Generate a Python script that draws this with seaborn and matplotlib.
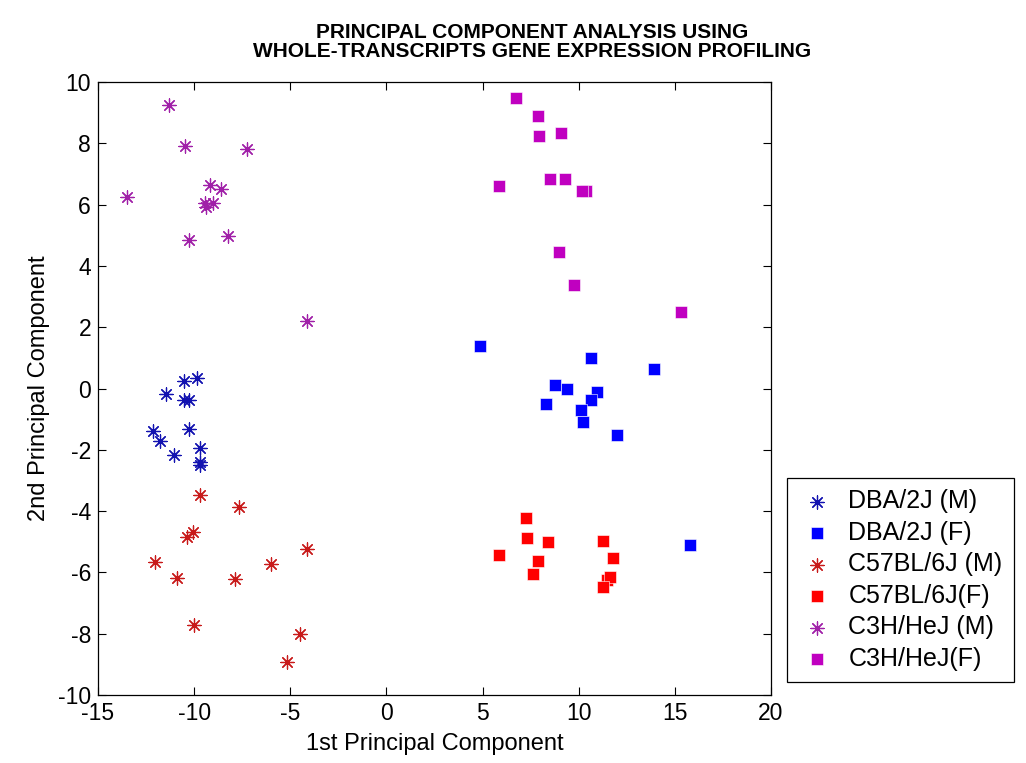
import numpy as np
import pandas as pd
import matplotlib
matplotlib.use("Agg")
import matplotlib.pyplot as plt
import seaborn as sns

# ---------------- data ----------------
dba_m_x = [-10.53, -9.84, -11.45, -10.53, -10.25, -10.25, -12.14, -11.79, -11.05, -9.70, -9.70, -9.68]
dba_m_y = [0.24, 0.34, -0.17, -0.37, -0.36, -1.31, -1.40, -1.71, -2.17, -1.94, -2.41, -2.48]

dba_f_x = [4.88, 10.64, 13.91, 8.77, 9.37, 10.95, 10.64, 8.30, 10.12, 10.24, 11.99, 15.78]
dba_f_y = [1.40, 1.01, 0.65, 0.10, -0.03, -0.13, -0.39, -0.52, -0.71, -1.09, -1.53, -5.09]

c57_m_x = [-9.70, -7.67, -10.04, -10.37, -4.12, -12.02, -6.02, -10.91, -7.86, -9.99, -4.48, -5.16]
c57_m_y = [-3.48, -3.88, -4.67, -4.83, -5.24, -5.65, -5.74, -6.17, -6.20, -7.73, -8.02, -8.91]

c57_f_x = [7.26, 7.31, 8.38, 11.24, 5.85, 11.80, 7.86, 7.60, 11.48, 11.62, 11.24]
c57_f_y = [-4.22, -4.89, -5.02, -4.99, -5.44, -5.53, -5.64, -6.04, -6.26, -6.16, -6.49]

c3h_m_x = [-11.32, -10.49, -7.27, -9.16, -8.60, -13.47, -9.42, -9.38, -9.00, -10.29, -8.22, -4.12]
c3h_m_y = [9.26, 7.90, 7.82, 6.63, 6.51, 6.24, 6.05, 5.92, 6.05, 4.83, 4.98, 2.21]

c3h_f_x = [6.74, 7.88, 7.93, 9.08, 8.50, 9.28, 5.85, 10.38, 10.17, 8.97, 9.75, 15.32]
c3h_f_y = [9.49, 8.88, 8.25, 8.35, 6.82, 6.82, 6.62, 6.46, 6.46, 4.44, 3.39, 2.48]

labels = ["DBA/2J (M)", "DBA/2J (F)", "C57BL/6J (M)", "C57BL/6J(F)", "C3H/HeJ (M)", "C3H/HeJ(F)"]
xticks = [-15, -10, -5, 0, 5, 10, 15, 20]
yticks = [-10, -8, -6, -4, -2, 0, 2, 4, 6, 8, 10]

series = [
    (dba_m_x, dba_m_y), (dba_f_x, dba_f_y),
    (c57_m_x, c57_m_y), (c57_f_x, c57_f_y),
    (c3h_m_x, c3h_m_y), (c3h_f_x, c3h_f_y),
]

frames = []
for lab, (xs, ys) in zip(labels, series):
    frames.append(pd.DataFrame({"pc1": xs, "pc2": ys, "group": lab}))
df = pd.concat(frames, ignore_index=True)

# ---------------- style ----------------
sns.set_style("ticks")
plt.rcParams["font.family"] = ["Liberation Sans", "DejaVu Sans"]
plt.rcParams["axes.unicode_minus"] = False
plt.rcParams["text.color"] = "black"
plt.rcParams["axes.labelcolor"] = "black"
plt.rcParams["xtick.color"] = "black"
plt.rcParams["ytick.color"] = "black"

colors = {
    "DBA/2J (M)": "#1212B0",
    "DBA/2J (F)": "#0000FF",
    "C57BL/6J (M)": "#C81A1A",
    "C57BL/6J(F)": "#FF0000",
    "C3H/HeJ (M)": "#A020A8",
    "C3H/HeJ(F)": "#C000C0",
}
asterisk = (8, 2, 0)

fig = plt.figure(figsize=(10.26, 7.63), dpi=100)
ax = fig.add_axes([98 / 1026, 1 - 695 / 763, (771 - 98) / 1026, (695 - 82) / 763])

for lab in labels:
    sub = df[df["group"] == lab]
    if "(M)" in lab:
        sns.scatterplot(data=sub, x="pc1", y="pc2", color=colors[lab], marker=asterisk,
                        s=90, linewidth=0.9, label=lab, ax=ax)
    else:
        sns.scatterplot(data=sub, x="pc1", y="pc2", color=colors[lab], marker="s",
                        s=78, edgecolor="white", linewidth=0.4, label=lab, ax=ax)

ax.set_xlim(-15, 20)
ax.set_ylim(-10, 10)
ax.set_xticks(xticks)
ax.set_yticks(yticks)
ax.tick_params(axis="both", which="both", direction="in", length=6, width=0.8,
               top=True, right=True, labelsize=16.5, colors="black", pad=5)
for sp in ax.spines.values():
    sp.set_visible(True)
    sp.set_color("black")
    sp.set_linewidth(0.9)

ax.set_xlabel("1st Principal Component", fontsize=17, labelpad=6, color="black")
ax.set_ylabel("2nd Principal Component", fontsize=17, labelpad=6, color="black")

fig.text(532 / 1026, 1 - 23 / 763, "PRINCIPAL COMPONENT ANALYSIS USING\nWHOLE-TRANSCRIPTS GENE EXPRESSION PROFILING",
         ha="center", va="top", fontsize=15, fontweight="bold", linespacing=1.02, color="black")

leg = ax.legend(loc="lower left", bbox_to_anchor=(787 / 1026, 1 - 682 / 763),
                bbox_transform=fig.transFigure, fontsize=18, frameon=True,
                fancybox=False, framealpha=1, edgecolor="black",
                handletextpad=0.5, labelspacing=0.3, borderpad=0.45, borderaxespad=0,
                handlelength=1.5, markerscale=1.0)
leg.get_frame().set_linewidth(0.9)
for t in leg.get_texts():
    t.set_color("black")

fig.savefig("out.png", dpi=100, facecolor="white")
